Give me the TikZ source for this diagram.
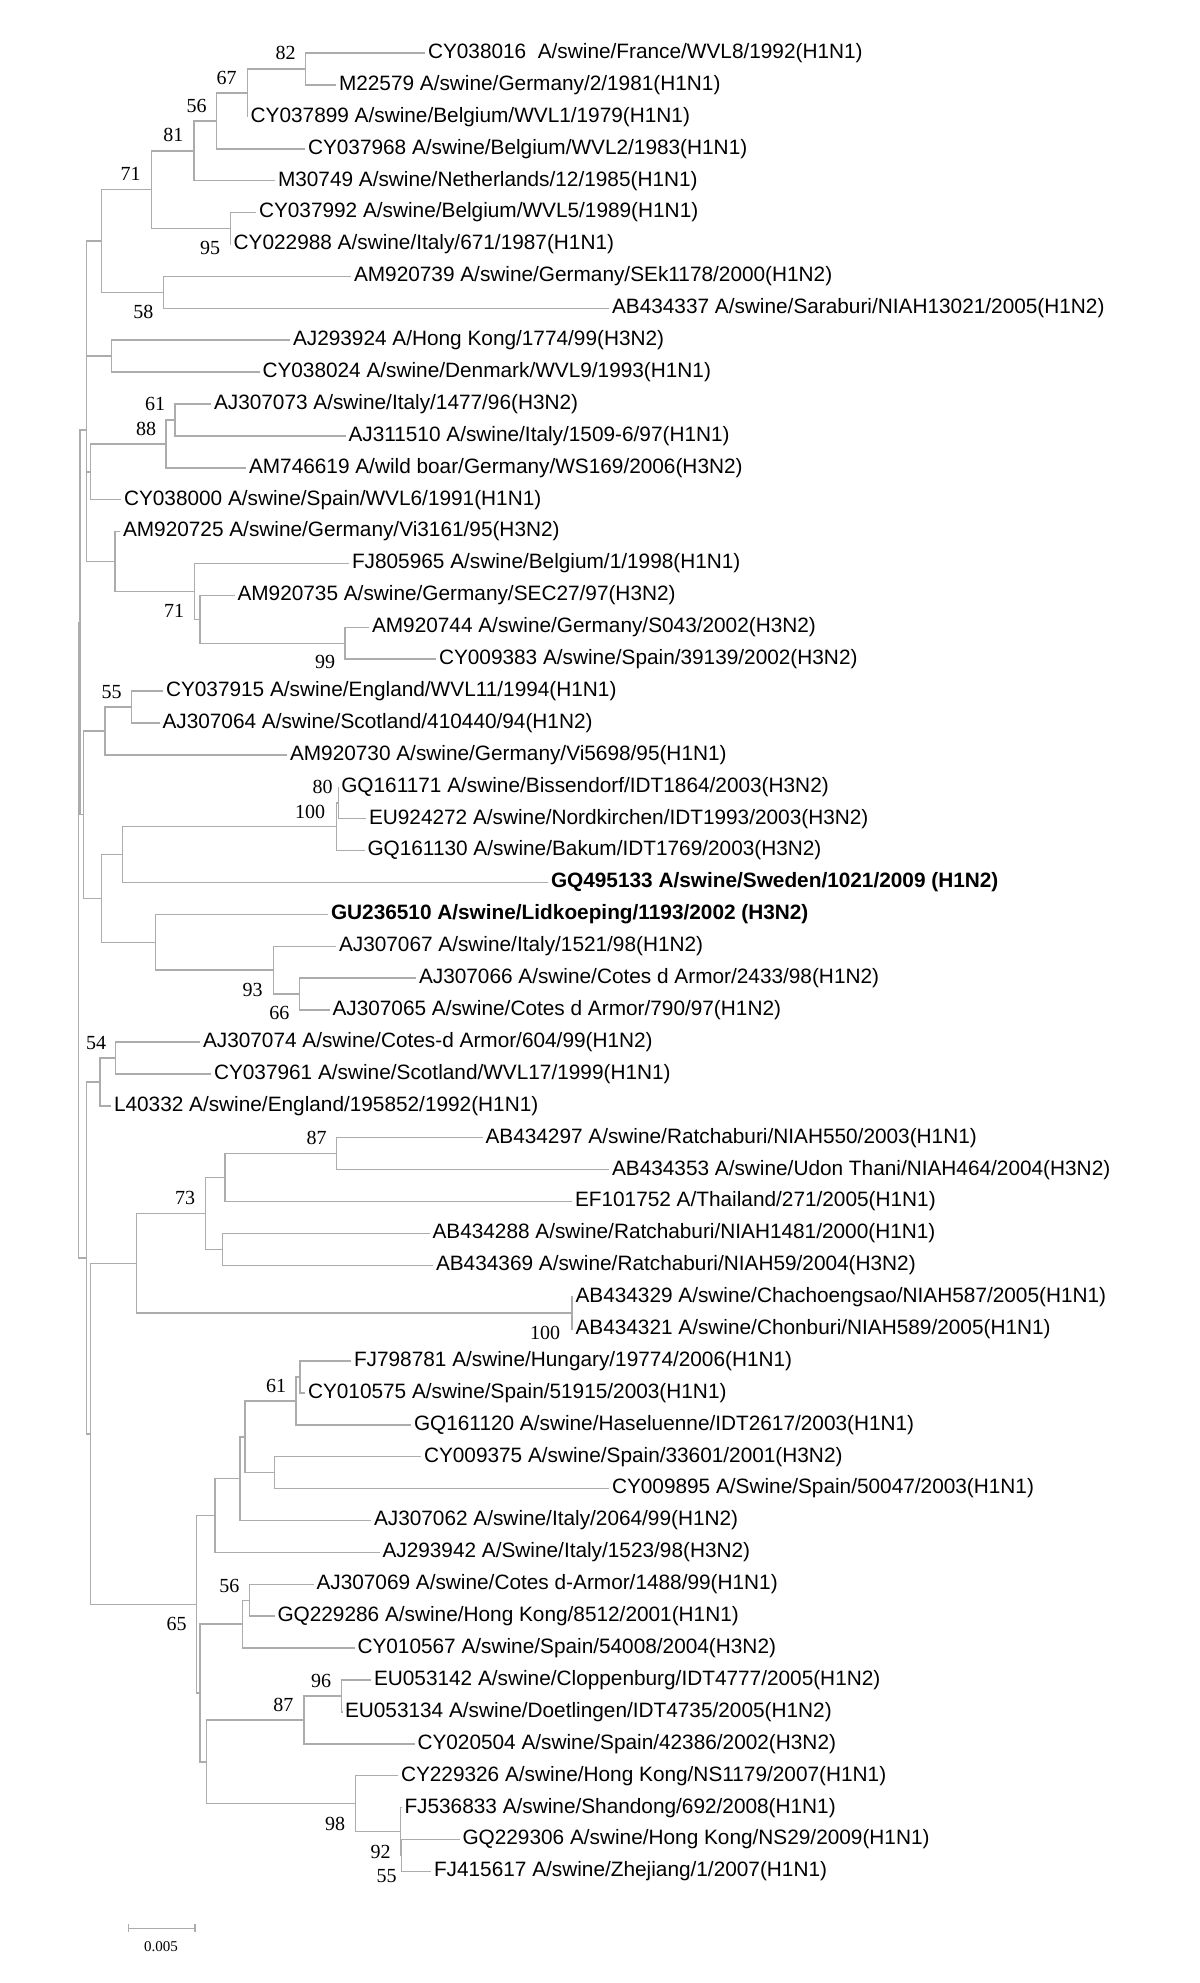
\documentclass[tikz,border=0pt]{standalone}
\usepackage{fontspec}
\setmainfont{Liberation Serif}
\setsansfont{Liberation Sans}
\usepackage{xcolor}
\usepackage{tikz}

\definecolor{branchgray}{RGB}{172,172,172}

\tikzset{
  branch/.style={draw=branchgray, line width=0.75pt},
  taxon/.style={anchor=west, inner sep=0pt, outer xsep=1.5pt, font=\sffamily\fontsize{10.4}{12}\selectfont},
  boldtaxon/.style={taxon, font=\sffamily\bfseries\fontsize{10.4}{12}\selectfont},
  boot/.style={inner sep=0pt, font=\fontsize{10}{12}\selectfont}
}

\begin{document}
\begin{tikzpicture}[x=0.5pt, y=-0.5pt]

        \useasboundingbox (0,0) rectangle (1200,1983);

        % ---------- Taxa ----------
        \node[taxon] (CY038016) at (425,53.1) {CY038016\ \ A/swine/France/WVL8/1992(H1N1)};
        \node[taxon] (M22579) at (336,85.0) {M22579 A/swine/Germany/2/1981(H1N1)};
        \node[taxon] (CY037899) at (247.7,116.9) {CY037899 A/swine/Belgium/WVL1/1979(H1N1)};
        \node[taxon] (CY037968) at (305,148.8) {CY037968 A/swine/Belgium/WVL2/1983(H1N1)};
        \node[taxon] (M30749) at (275,180.7) {M30749 A/swine/Netherlands/12/1985(H1N1)};
        \node[taxon] (CY037992) at (256,212.6) {CY037992 A/swine/Belgium/WVL5/1989(H1N1)};
        \node[taxon] (CY022988) at (230.7,244.5) {CY022988 A/swine/Italy/671/1987(H1N1)};
        \node[taxon] (AM920739) at (351,276.4) {AM920739 A/swine/Germany/SEk1178/2000(H1N2)};
        \node[taxon] (AB434337) at (609,308.3) {AB434337 A/swine/Saraburi/NIAH13021/2005(H1N2)};
        \node[taxon] (AJ293924) at (290,340.2) {AJ293924 A/Hong Kong/1774/99(H3N2)};
        \node[taxon] (CY038024) at (259.5,372.1) {CY038024 A/swine/Denmark/WVL9/1993(H1N1)};
        \node[taxon] (AJ307073) at (211,404.0) {AJ307073 A/swine/Italy/1477/96(H3N2)};
        \node[taxon] (AJ311510) at (345.5,435.9) {AJ311510 A/swine/Italy/1509-6/97(H1N1)};
        \node[taxon] (AM746619) at (246,467.8) {AM746619 A/wild boar/Germany/WS169/2006(H3N2)};
        \node[taxon] (CY038000) at (121,499.7) {CY038000 A/swine/Spain/WVL6/1991(H1N1)};
        \node[taxon] (AM920725) at (120,531.6) {AM920725 A/swine/Germany/Vi3161/95(H3N2)};
        \node[taxon] (FJ805965) at (349,563.5) {FJ805965 A/swine/Belgium/1/1998(H1N1)};
        \node[taxon] (AM920735) at (234.5,595.4) {AM920735 A/swine/Germany/SEC27/97(H3N2)};
        \node[taxon] (AM920744) at (369,627.3) {AM920744 A/swine/Germany/S043/2002(H3N2)};
        \node[taxon] (CY009383) at (436,659.2) {CY009383 A/swine/Spain/39139/2002(H3N2)};
        \node[taxon] (CY037915) at (163,691.1) {CY037915 A/swine/England/WVL11/1994(H1N1)};
        \node[taxon] (AJ307064) at (159.5,723.0) {AJ307064 A/swine/Scotland/410440/94(H1N2)};
        \node[taxon] (AM920730) at (287,754.9) {AM920730 A/swine/Germany/Vi5698/95(H1N1)};
        \node[taxon] (GQ161171) at (338.3,786.8) {GQ161171 A/swine/Bissendorf/IDT1864/2003(H3N2)};
        \node[taxon] (EU924272) at (366,818.7) {EU924272 A/swine/Nordkirchen/IDT1993/2003(H3N2)};
        \node[taxon] (GQ161130) at (364.5,850.6) {GQ161130 A/swine/Bakum/IDT1769/2003(H3N2)};
        \node[boldtaxon] (GQ495133) at (548,882.5) {GQ495133 A/swine/Sweden/1021/2009 (H1N2)};
        \node[boldtaxon] (GU236510) at (328,914.4) {GU236510 A/swine/Lidkoeping/1193/2002 (H3N2)};
        \node[taxon] (AJ307067) at (336,946.3) {AJ307067 A/swine/Italy/1521/98(H1N2)};
        \node[taxon] (AJ307066) at (416,978.2) {AJ307066 A/swine/Cotes d Armor/2433/98(H1N2)};
        \node[taxon] (AJ307065) at (329.5,1010.1) {AJ307065 A/swine/Cotes d Armor/790/97(H1N2)};
        \node[taxon] (AJ307074) at (200,1042.0) {AJ307074 A/swine/Cotes-d Armor/604/99(H1N2)};
        \node[taxon] (CY037961) at (211,1073.9) {CY037961 A/swine/Scotland/WVL17/1999(H1N1)};
        \node[taxon] (L40332) at (111,1105.8) {L40332 A/swine/England/195852/1992(H1N1)};
        \node[taxon] (AB434297) at (482.5,1137.7) {AB434297 A/swine/Ratchaburi/NIAH550/2003(H1N1)};
        \node[taxon] (AB434353) at (609,1169.6) {AB434353 A/swine/Udon Thani/NIAH464/2004(H3N2)};
        \node[taxon] (EF101752) at (572,1201.5) {EF101752 A/Thailand/271/2005(H1N1)};
        \node[taxon] (AB434288) at (429.5,1233.4) {AB434288 A/swine/Ratchaburi/NIAH1481/2000(H1N1)};
        \node[taxon] (AB434369) at (433,1265.3) {AB434369 A/swine/Ratchaburi/NIAH59/2004(H3N2)};
        \node[taxon] (AB434329) at (572.5,1297.2) {AB434329 A/swine/Chachoengsao/NIAH587/2005(H1N1)};
        \node[taxon] (AB434321) at (572.5,1329.1) {AB434321 A/swine/Chonburi/NIAH589/2005(H1N1)};
        \node[taxon] (FJ798781) at (351,1361.0) {FJ798781 A/swine/Hungary/19774/2006(H1N1)};
        \node[taxon] (CY010575) at (305,1392.9) {CY010575 A/swine/Spain/51915/2003(H1N1)};
        \node[taxon] (GQ161120) at (411,1424.8) {GQ161120 A/swine/Haseluenne/IDT2617/2003(H1N1)};
        \node[taxon] (CY009375) at (421,1456.7) {CY009375 A/swine/Spain/33601/2001(H3N2)};
        \node[taxon] (CY009895) at (609,1488.6) {CY009895 A/Swine/Spain/50047/2003(H1N1)};
        \node[taxon] (AJ307062) at (371,1520.5) {AJ307062 A/swine/Italy/2064/99(H1N2)};
        \node[taxon] (AJ293942) at (379.5,1552.4) {AJ293942 A/Swine/Italy/1523/98(H3N2)};
        \node[taxon] (AJ307069) at (313.5,1584.3) {AJ307069 A/swine/Cotes d-Armor/1488/99(H1N1)};
        \node[taxon] (GQ229286) at (274.5,1616.2) {GQ229286 A/swine/Hong Kong/8512/2001(H1N1)};
        \node[taxon] (CY010567) at (354.5,1648.1) {CY010567 A/swine/Spain/54008/2004(H3N2)};
        \node[taxon] (EU053142) at (371,1680.0) {EU053142 A/swine/Cloppenburg/IDT4777/2005(H1N2)};
        \node[taxon] (EU053134) at (342,1711.9) {EU053134 A/swine/Doetlingen/IDT4735/2005(H1N2)};
        \node[taxon] (CY020504) at (414.5,1743.8) {CY020504 A/swine/Spain/42386/2002(H3N2)};
        \node[taxon] (CY229326) at (398,1775.7) {CY229326 A/swine/Hong Kong/NS1179/2007(H1N1)};
        \node[taxon] (FJ536833) at (401.5,1807.6) {FJ536833 A/swine/Shandong/692/2008(H1N1)};
        \node[taxon] (GQ229306) at (459.5,1839.5) {GQ229306 A/swine/Hong Kong/NS29/2009(H1N1)};
        \node[taxon] (FJ415617) at (431,1871.4) {FJ415617 A/swine/Zhejiang/1/2007(H1N1)};

        % ---------- Upper clades ----------
        \coordinate (n82) at (305.7,69.05);
        \coordinate (n67) at (247.7,93.0);
        \coordinate (n56) at (216.7,120.9);
        \coordinate (n81) at (194,150.8);
        \coordinate (n95) at (230.7,228.55);
        \coordinate (n71) at (151.7,189.7);
        \coordinate (n58) at (163.3,292.35);
        \coordinate (nEur) at (101.7,241);
        \coordinate (nHK) at (111.7,356.15);
        \coordinate (n61) at (175,419.95);
        \coordinate (n88) at (166,443.9);
        \coordinate (nIta) at (90.7,471.8);
        \coordinate (n99) at (345,643.25);
        \coordinate (nGer) at (200,619.3);
        \coordinate (n71b) at (194.3,591.4);
        \coordinate (nVi) at (115,561.5);
        \coordinate (nTop) at (86.7,430);

        % ---------- Middle clades ----------
        \coordinate (n55) at (131.7,707.05);
        \coordinate (nEng) at (105,731);
        \coordinate (n80) at (338.3,802.75);
        \coordinate (n100) at (336.7,826.7);
        \coordinate (nSwe) at (122.7,854.6);
        \coordinate (n66) at (299.3,994.15);
        \coordinate (n93) at (273.3,970.2);
        \coordinate (nLid) at (155.7,942.3);
        \coordinate (nMix) at (101.7,898.5);
        \coordinate (nMid) at (83.3,814.7);
        \coordinate (nUp) at (80,622.4);
        \coordinate (nScot) at (115.7,1057.95);
        \coordinate (n54) at (100,1081.9);

        % ---------- Asian clade ----------
        \coordinate (n87) at (336.7,1153.65);
        \coordinate (nTha) at (225,1177.6);
        \coordinate (nRat) at (222.3,1249.35);
        \coordinate (nAsia) at (205.3,1213.5);
        \coordinate (n100b) at (572,1313.15);
        \coordinate (n73) at (136.7,1263.3);

        % ---------- Lower clades ----------
        \coordinate (nHun) at (300,1376.95);
        \coordinate (n61b) at (296,1400.9);
        \coordinate (nSpa) at (274.3,1472.65);
        \coordinate (nHas) at (245,1436.8);
        \coordinate (nIt2) at (240,1478.65);
        \coordinate (nIt3) at (215,1515.5);
        \coordinate (n56b) at (249.3,1600.25);
        \coordinate (nCot) at (242.3,1624.2);
        \coordinate (n96) at (341.7,1695.95);
        \coordinate (n87b) at (304,1719.9);
        \coordinate (n55b) at (401.7,1855.45);
        \coordinate (n92) at (400.7,1831.5);
        \coordinate (n98) at (355.7,1803.6);
        \coordinate (nClo) at (206.7,1761.75);
        \coordinate (nPan) at (200,1693);
        \coordinate (n65) at (196.7,1604.25);
        \coordinate (nLow) at (90.7,1433.8);
        \coordinate (nBot) at (86.7,1258);
        \coordinate (root) at (78.3,940.2);

        % branches
        \draw[branch] (n82) |- (CY038016.west) (n82) |- (M22579.west);
        \draw[branch] (n67) |- (n82) (n67) |- (CY037899.west);
        \draw[branch] (n56) |- (n67) (n56) |- (CY037968.west);
        \draw[branch] (n81) |- (n56) (n81) |- (M30749.west);
        \draw[branch] (n95) |- (CY037992.west) (n95) |- (CY022988.west);
        \draw[branch] (n71) |- (n81) (n71) |- (n95);
        \draw[branch] (n58) |- (AM920739.west) (n58) |- (AB434337.west);
        \draw[branch] (nEur) |- (n71) (nEur) |- (n58);
        \draw[branch] (nHK) |- (AJ293924.west) (nHK) |- (CY038024.west);
        \draw[branch] (n61) |- (AJ307073.west) (n61) |- (AJ311510.west);
        \draw[branch] (n88) |- (n61) (n88) |- (AM746619.west);
        \draw[branch] (nIta) |- (n88) (nIta) |- (CY038000.west);
        \draw[branch] (n99) |- (AM920744.west) (n99) |- (CY009383.west);
        \draw[branch] (nGer) |- (AM920735.west) (nGer) |- (n99);
        \draw[branch] (n71b) |- (FJ805965.west) (n71b) |- (nGer);
        \draw[branch] (nVi) |- (AM920725.west) (nVi) |- (n71b);
        \draw[branch] (nTop) |- (nEur) (nTop) |- (nHK) (nTop) |- (nIta) (nTop) |- (nVi);

        \draw[branch] (n55) |- (CY037915.west) (n55) |- (AJ307064.west);
        \draw[branch] (nEng) |- (n55) (nEng) |- (AM920730.west);
        \draw[branch] (n80) |- (GQ161171.west) (n80) |- (EU924272.west);
        \draw[branch] (n100) |- (n80) (n100) |- (GQ161130.west);
        \draw[branch] (nSwe) |- (n100) (nSwe) |- (GQ495133.west);
        \draw[branch] (n66) |- (AJ307066.west) (n66) |- (AJ307065.west);
        \draw[branch] (n93) |- (AJ307067.west) (n93) |- (n66);
        \draw[branch] (nLid) |- (GU236510.west) (nLid) |- (n93);
        \draw[branch] (nMix) |- (nSwe) (nMix) |- (nLid);
        \draw[branch] (nMid) |- (nEng) (nMid) |- (nMix);
        \draw[branch] (nUp) |- (nTop) (nUp) |- (nMid);
        \draw[branch] (nScot) |- (AJ307074.west) (nScot) |- (CY037961.west);
        \draw[branch] (n54) |- (nScot) (n54) |- (L40332.west);

        \draw[branch] (n87) |- (AB434297.west) (n87) |- (AB434353.west);
        \draw[branch] (nTha) |- (n87) (nTha) |- (EF101752.west);
        \draw[branch] (nRat) |- (AB434288.west) (nRat) |- (AB434369.west);
        \draw[branch] (nAsia) |- (nTha) (nAsia) |- (nRat);
        \draw[branch] (n100b) |- (AB434329.west) (n100b) |- (AB434321.west);
        \draw[branch] (n73) |- (nAsia) (n73) |- (n100b);

        \draw[branch] (nHun) |- (FJ798781.west) (nHun) |- (CY010575.west);
        \draw[branch] (n61b) |- (nHun) (n61b) |- (GQ161120.west);
        \draw[branch] (nSpa) |- (CY009375.west) (nSpa) |- (CY009895.west);
        \draw[branch] (nHas) |- (n61b) (nHas) |- (nSpa);
        \draw[branch] (nIt2) |- (nHas) (nIt2) |- (AJ307062.west);
        \draw[branch] (nIt3) |- (nIt2) (nIt3) |- (AJ293942.west);
        \draw[branch] (n56b) |- (AJ307069.west) (n56b) |- (GQ229286.west);
        \draw[branch] (nCot) |- (n56b) (nCot) |- (CY010567.west);
        \draw[branch] (n96) |- (EU053142.west) (n96) |- (EU053134.west);
        \draw[branch] (n87b) |- (n96) (n87b) |- (CY020504.west);
        \draw[branch] (n55b) |- (GQ229306.west) (n55b) |- (FJ415617.west);
        \draw[branch] (n92) |- (FJ536833.west) (n92) |- (n55b);
        \draw[branch] (n98) |- (CY229326.west) (n98) |- (n92);
        \draw[branch] (nClo) |- (n87b) (nClo) |- (n98);
        \draw[branch] (nPan) |- (nCot) (nPan) |- (nClo);
        \draw[branch] (n65) |- (nIt3) (n65) |- (nPan);
        \draw[branch] (nLow) |- (n73) (nLow) |- (n65);
        \draw[branch] (nBot) |- (n54) (nBot) |- (nLow);
        \draw[branch] (root) |- (nUp) (root) |- (nBot);

        % bootstrap values
        \node[boot] at (285.7,53.3) {82};
        \node[boot] at (226.7,78.3) {67};
        \node[boot] at (196.7,106) {56};
        \node[boot] at (173.3,135) {81};
        \node[boot] at (130.7,174) {71};
        \node[boot] at (210,247.7) {95};
        \node[boot] at (143.3,311.7) {58};
        \node[boot] at (155,404) {61};
        \node[boot] at (146,429.3) {88};
        \node[boot] at (174,610.7) {71};
        \node[boot] at (325,661.7) {99};
        \node[boot] at (111.7,691.7) {55};
        \node[boot] at (322.7,787.3) {80};
        \node[boot] at (310,811.7) {100};
        \node[boot] at (252.7,990) {93};
        \node[boot] at (279.3,1013.3) {66};
        \node[boot] at (96,1042.7) {54};
        \node[boot] at (316.7,1138.3) {87};
        \node[boot] at (185,1198.3) {73};
        \node[boot] at (545,1333.3) {100};
        \node[boot] at (276,1386) {61};
        \node[boot] at (229.3,1585.7) {56};
        \node[boot] at (176.7,1624) {65};
        \node[boot] at (321,1681) {96};
        \node[boot] at (283.3,1705) {87};
        \node[boot] at (335,1824) {98};
        \node[boot] at (380.7,1851.7) {92};
        \node[boot] at (386.7,1876) {55};

        % scale bar
        \coordinate (barL) at (128.3,1928.3);
        \coordinate (barR) at (195,1928.3);
        \draw[branch] (barL) -- (barR);
        \draw[branch] ([yshift=2pt]barL) -- ([yshift=-2pt]barL);
        \draw[branch] ([yshift=2pt]barR) -- ([yshift=-2pt]barR);
        \node[inner sep=0pt, font=\fontsize{7.5}{9}\selectfont] (barlabel) at (161,1946.7) {0.005};

\end{tikzpicture}
\end{document}
